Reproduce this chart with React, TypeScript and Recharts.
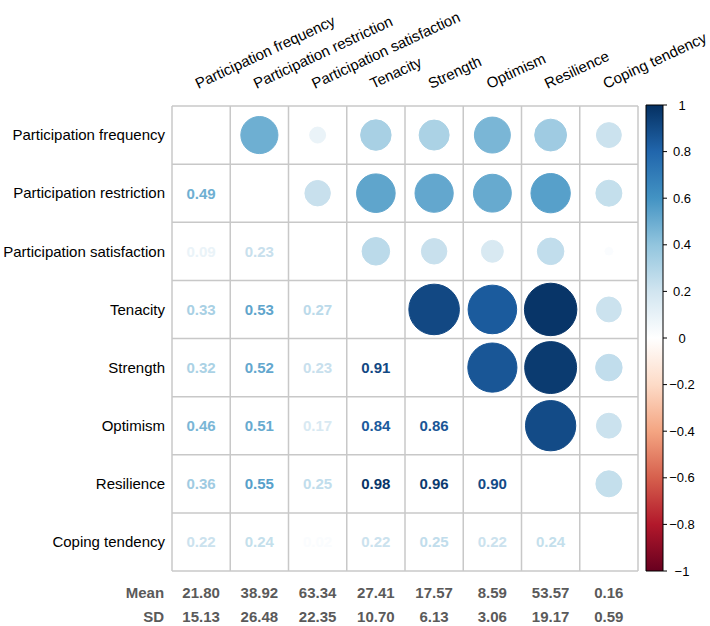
import React from 'react';
import {
  ScatterChart, Scatter, XAxis, YAxis, ZAxis, ReferenceLine,
  BarChart, Bar,
} from 'recharts';

const VARIABLES = [
  'Participation frequency',
  'Participation restriction',
  'Participation satisfaction',
  'Tenacity',
  'Strength',
  'Optimism',
  'Resilience',
  'Coping tendency',
];

// lower triangle of the correlation matrix (row i, columns 0..i-1)
const CORR_LOWER: number[][] = [
  [],
  [0.49],
  [0.09, 0.23],
  [0.33, 0.53, 0.27],
  [0.32, 0.52, 0.23, 0.91],
  [0.46, 0.51, 0.17, 0.84, 0.86],
  [0.36, 0.55, 0.25, 0.98, 0.96, 0.90],
  [0.22, 0.24, 0.02, 0.22, 0.25, 0.22, 0.24],
];

const MEANS = ['21.80', '38.92', '63.34', '27.41', '17.57', '8.59', '53.57', '0.16'];
const SDS = ['15.13', '26.48', '22.35', '10.70', '6.13', '3.06', '19.17', '0.59'];

const COLORBAR_TICKS = [-1, -0.8, -0.6, -0.4, -0.2, 0, 0.2, 0.4, 0.6, 0.8, 1];

const PALETTE = ['#67001F', '#B2182B', '#D6604D', '#F4A582', '#FDDBC7', '#FFFFFF',
  '#D1E5F0', '#92C5DE', '#4393C3', '#2166AC', '#053061'];

const hexToRgb = (h: string) => [parseInt(h.slice(1, 3), 16), parseInt(h.slice(3, 5), 16), parseInt(h.slice(5, 7), 16)];
const colorFor = (v: number) => {
  const t = ((Math.max(-1, Math.min(1, v)) + 1) / 2) * (PALETTE.length - 1);
  const i = Math.min(PALETTE.length - 2, Math.floor(t));
  const f = t - i;
  const a = hexToRgb(PALETTE[i]);
  const b = hexToRgb(PALETTE[i + 1]);
  const c = a.map((av, k) => Math.round(av + (b[k] - av) * f));
  return `rgb(${c[0]},${c[1]},${c[2]})`;
};

const N = VARIABLES.length;
const corr = (i: number, j: number) => (i > j ? CORR_LOWER[i][j] : CORR_LOWER[j][i]);

const upperPoints: any[] = [];
const lowerPoints: any[] = [];
for (let i = 0; i < N; i++) {
  for (let j = 0; j < N; j++) {
    if (i === j) continue;
    const r = corr(i, j);
    const p = { x: j + 0.5, y: i + 0.5, z: Math.abs(r), r };
    if (j > i) upperPoints.push(p);
    else lowerPoints.push(p);
  }
}

const CENTERS = VARIABLES.map((_, i) => i + 0.5);
const BOUNDS = Array.from({ length: N + 1 }, (_, i) => i);

const FONT = '"Liberation Sans", Arial, sans-serif';
const GRID = '#C8C8C8';

const CircleShape = (props: any) => {
  const { cx, cy, payload } = props;
  const rad = props.width != null ? props.width / 2 : Math.sqrt((props.size || 0) / Math.PI);
  const c = colorFor(payload.r);
  return <circle cx={cx} cy={cy} r={rad} fill={c} stroke={c} strokeWidth={1} />;
};

const TextShape = (props: any) => {
  const { cx, cy, payload } = props;
  return (
    <text x={cx} y={cy} dy="0.36em" textAnchor="middle" fontFamily={FONT} fontWeight="bold"
      fontSize={15} fill={colorFor(payload.r)}>
      {payload.r.toFixed(2)}
    </text>
  );
};

const TopTick = (props: any) => {
  const { x, y, payload } = props;
  const i = Math.round(payload.value - 0.5);
  const tx = x - 3;
  const ty = y - 17;
  return (
    <text x={tx} y={ty} transform={`rotate(-25, ${tx}, ${ty})`} textAnchor="start"
      fontFamily={FONT} fontSize={15} fill="#000">
      {VARIABLES[i]}
    </text>
  );
};

const LeftTick = (props: any) => {
  const { x, y, payload } = props;
  const i = Math.round(payload.value - 0.5);
  return (
    <text x={x - 7} y={y} dy="0.35em" textAnchor="end" fontFamily={FONT} fontSize={15} fill="#000">
      {VARIABLES[i]}
    </text>
  );
};

const StatsTick = (props: any) => {
  const { x, y, payload } = props;
  const i = Math.round(payload.value - 0.5);
  const common = { fontFamily: FONT, fontWeight: 'bold' as const, fontSize: 15, fill: '#5A5A5A' };
  return (
    <g>
      {i === 0 && (
        <>
          <text x={x - 37} y={y + 27} textAnchor="end" {...common}>Mean</text>
          <text x={x - 37} y={y + 51} textAnchor="end" {...common}>SD</text>
        </>
      )}
      <text x={x} y={y + 27} textAnchor="middle" {...common}>{MEANS[i]}</text>
      <text x={x} y={y + 51} textAnchor="middle" {...common}>{SDS[i]}</text>
    </g>
  );
};

const BarTick = (props: any) => {
  const { x, y, payload } = props;
  const v = payload.value as number;
  const label = v < 0 ? '\u2212' + String(Math.abs(v)) : String(v);
  return (
    <text x={x + 15} y={y} dy="0.35em" textAnchor="middle" fontFamily={FONT} fontSize={13} fill="#000">
      {label}
    </text>
  );
};

const colorbarData = [{ name: 'scale', range: [-1, 1] }];

export default function App() {
  return (
    <div style={{ position: 'absolute', left: 0, top: 0, width: 710, height: 626, background: '#fff' }}>
      <div style={{ position: 'absolute', left: 0, top: 0 }}>
        <ScatterChart width={710} height={626} margin={{ top: 1, right: 72, bottom: 0, left: 0 }}>
          <XAxis xAxisId={0} type="number" dataKey="x" domain={[0, N]} ticks={CENTERS} interval={0}
            orientation="top" height={105} tickLine={false} axisLine={false} tickSize={0} tickMargin={0}
            tick={<TopTick />} allowDataOverflow />
          <XAxis xAxisId="stats" type="number" dataKey="x" domain={[0, N]} ticks={CENTERS} interval={0}
            orientation="bottom" height={55} tickLine={false} axisLine={false} tickSize={0} tickMargin={0}
            tick={<StatsTick />} allowDataOverflow />
          <YAxis yAxisId={0} type="number" dataKey="y" domain={[0, N]} ticks={CENTERS} interval={0}
            reversed width={172} tickLine={false} axisLine={false} tickSize={0} tickMargin={0}
            tick={<LeftTick />} allowDataOverflow />
          <ZAxis dataKey="z" domain={[0, 1]} range={[0, 2206]} />
          {BOUNDS.map((b) => (
            <ReferenceLine key={'v' + b} x={b} xAxisId={0} yAxisId={0} stroke={GRID} strokeWidth={1.5} />
          ))}
          {BOUNDS.map((b) => (
            <ReferenceLine key={'h' + b} y={b} xAxisId={0} yAxisId={0} stroke={GRID} strokeWidth={1.5} />
          ))}
          <Scatter data={upperPoints} xAxisId={0} yAxisId={0} shape={<CircleShape />} isAnimationActive={false} />
          <Scatter data={lowerPoints} xAxisId={0} yAxisId={0} shape={<TextShape />} isAnimationActive={false} />
        </ScatterChart>
      </div>
      <div style={{ position: 'absolute', left: 640, top: 0 }}>
        <BarChart width={70} height={626} data={colorbarData} barCategoryGap={0}
          margin={{ top: 105, right: 0, bottom: 55, left: 6 }}>
          <defs>
            <linearGradient id="rdbu" x1="0" y1="0" x2="0" y2="1">
              {PALETTE.slice().reverse().map((c, k) => (
                <stop key={k} offset={`${(k / (PALETTE.length - 1)) * 100}%`} stopColor={c} />
              ))}
            </linearGradient>
          </defs>
          <XAxis dataKey="name" hide />
          <YAxis orientation="right" type="number" domain={[-1, 1]} ticks={COLORBAR_TICKS} interval={0}
            width={47} axisLine={false} tickLine={{ stroke: '#000' }} tickSize={4} tickMargin={0}
            tick={<BarTick />} />
          <Bar dataKey="range" fill="url(#rdbu)" stroke="#000" strokeWidth={1} isAnimationActive={false} />
        </BarChart>
      </div>
    </div>
  );
}
